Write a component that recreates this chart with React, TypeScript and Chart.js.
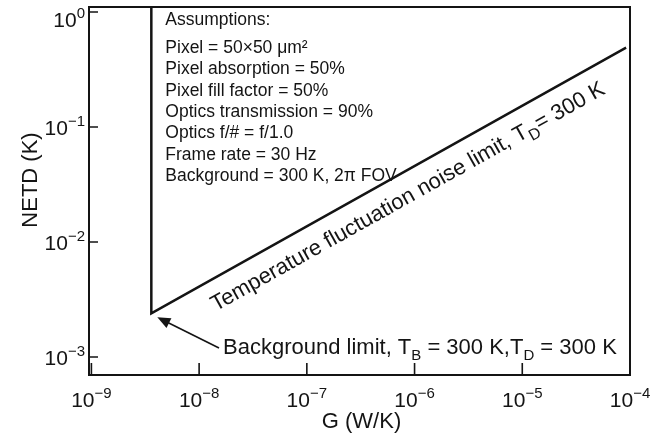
import React, { useEffect, useRef } from "react";
import { Chart, registerables } from "chart.js";

Chart.register(...registerables);

// ---- data ----
const X_MIN = 9.5e-10;
const X_MAX = 1e-4;
const Y_MIN = 6.97e-4;
const Y_MAX = 1.105;

const xTickValues = [1e-9, 1e-8, 1e-7, 1e-6, 1e-5, 1e-4];
const xTickExponents = ["\u22129", "\u22128", "\u22127", "\u22126", "\u22125", "\u22124"];
const yTickValues = [1e0, 1e-1, 1e-2, 1e-3];
const yTickExponents = ["0", "\u22121", "\u22122", "\u22123"];

// limit curve: background-limit vertical, then temperature-fluctuation limit
const limitG = [3.6e-9, 3.6e-9, 9.2e-5];
const limitNETD = [1.105, 2.4e-3, 0.49];

const assumptions = [
  "Assumptions:",
  "Pixel = 50\u00d750 \u03bcm\u00b2",
  "Pixel absorption = 50%",
  "Pixel fill factor = 50%",
  "Optics transmission = 90%",
  "Optics f/# = f/1.0",
  "Frame rate = 30 Hz",
  "Background = 300 K, 2\u03c0 FOV",
];

const FONT = '"Liberation Sans", Arial, Helvetica, sans-serif';
const INK = "#141414";
const f = (s: number) => `${s}px ${FONT}`;

function drawPower(ctx: CanvasRenderingContext2D, exp: string, x: number, baseline: number, align: "center" | "right") {
  ctx.font = f(21);
  const w1 = ctx.measureText("10").width;
  ctx.font = f(15);
  const w2 = ctx.measureText(exp).width;
  const start = align === "center" ? x - (w1 + w2) / 2 : x - (w1 + w2);
  ctx.textAlign = "left";
  ctx.textBaseline = "alphabetic";
  ctx.font = f(21);
  ctx.fillText("10", start, baseline);
  ctx.font = f(15);
  ctx.fillText(exp, start + w1, baseline - 9);
}

type Seg = { t: string; sub?: boolean };
function drawSegs(ctx: CanvasRenderingContext2D, segs: Seg[], x: number, y: number, size: number, subSize: number, subDrop: number) {
  let cx = x;
  ctx.textAlign = "left";
  ctx.textBaseline = "alphabetic";
  for (const s of segs) {
    ctx.font = f(s.sub ? subSize : size);
    ctx.fillText(s.t, cx, s.sub ? y + subDrop : y);
    cx += ctx.measureText(s.t).width;
  }
}

const decorPlugin = {
  id: "decor",
  beforeDraw(chart: any) {
    const { ctx, width, height } = chart;
    ctx.save();
    ctx.fillStyle = "#ffffff";
    ctx.fillRect(0, 0, width, height);
    ctx.restore();
  },
  afterDraw(chart: any) {
    const { ctx, chartArea: a, scales } = chart;
    const xs = scales.x;
    const ys = scales.y;
    ctx.save();
    ctx.strokeStyle = INK;
    ctx.fillStyle = INK;

    // frame
    ctx.lineWidth = 2;
    ctx.strokeRect(a.left, a.top, a.right - a.left, a.bottom - a.top);

    // inner ticks
    ctx.lineWidth = 1.6;
    ctx.beginPath();
    xTickValues.forEach((v) => {
      const px = xs.getPixelForValue(v);
      ctx.moveTo(px, a.bottom);
      ctx.lineTo(px, a.bottom - 12);
    });
    yTickValues.forEach((v) => {
      const py = ys.getPixelForValue(v);
      ctx.moveTo(a.left, py);
      ctx.lineTo(a.left + 9, py);
    });
    ctx.stroke();

    // tick labels
    xTickValues.forEach((v, i) => {
      drawPower(ctx, xTickExponents[i], xs.getPixelForValue(v), a.bottom + 32, "center");
    });
    yTickValues.forEach((v, i) => {
      const py = ys.getPixelForValue(v);
      drawPower(ctx, yTickExponents[i], a.left - 4, Math.max(py + 8, 27), "right");
    });

    // axis titles
    ctx.font = f(22);
    ctx.textAlign = "center";
    ctx.textBaseline = "alphabetic";
    ctx.fillText("G (W/K)", (a.left + a.right) / 2 + 2, a.bottom + 53);
    ctx.save();
    ctx.translate(37, 180);
    ctx.rotate(-Math.PI / 2);
    ctx.fillText("NETD (K)", 0, 0);
    ctx.restore();

    // assumptions block
    const corner = { x: xs.getPixelForValue(limitG[1]), y: ys.getPixelForValue(limitNETD[1]) };
    const end = { x: xs.getPixelForValue(limitG[2]), y: ys.getPixelForValue(limitNETD[2]) };
    ctx.font = f(17.5);
    ctx.textAlign = "left";
    assumptions.forEach((line, i) => {
      const base = i === 0 ? 25 : 53 + (i - 1) * 21.3;
      ctx.fillText(line, corner.x + 14, base);
    });

    // rotated label along the temperature-fluctuation line
    const theta = Math.atan2(corner.y - end.y, end.x - corner.x);
    const ux = Math.cos(theta), uy = -Math.sin(theta);
    const nx = Math.sin(theta), ny = Math.cos(theta);
    const sx = corner.x + 57 * ux + 30 * nx;
    const sy = corner.y + 57 * uy + 30 * ny;
    ctx.save();
    ctx.translate(sx, sy);
    ctx.rotate(-theta);
    drawSegs(ctx, [
      { t: "Temperature fluctuation noise limit, T" },
      { t: "D", sub: true },
      { t: "= 300 K" },
    ], 0, 0, 22, 16, 6);
    ctx.restore();

    // background limit label
    const bx = 223, by = 354;
    drawSegs(ctx, [
      { t: "Background limit, T" },
      { t: "B", sub: true },
      { t: " = 300 K,T" },
      { t: "D", sub: true },
      { t: " = 300 K" },
    ], bx, by, 22, 15, 6);

    // arrow
    const tip = { x: corner.x + 6, y: corner.y + 4 };
    const tail = { x: bx - 4, y: by - 6 };
    const dx = tip.x - tail.x, dy = tip.y - tail.y;
    const len = Math.hypot(dx, dy);
    const dxn = dx / len, dyn = dy / len;
    ctx.lineWidth = 1.6;
    ctx.beginPath();
    ctx.moveTo(tail.x, tail.y);
    ctx.lineTo(tip.x - dxn * 10, tip.y - dyn * 10);
    ctx.stroke();
    ctx.beginPath();
    ctx.moveTo(tip.x, tip.y);
    ctx.lineTo(tip.x - dxn * 13 - dyn * 5.5, tip.y - dyn * 13 + dxn * 5.5);
    ctx.lineTo(tip.x - dxn * 13 + dyn * 5.5, tip.y - dyn * 13 - dxn * 5.5);
    ctx.closePath();
    ctx.fill();

    ctx.restore();
  },
};

export default function App() {
  const ref = useRef<HTMLCanvasElement | null>(null);
  useEffect(() => {
    document.body.style.margin = "0";
    if (!ref.current) return;
    const chart = new Chart(ref.current, {
      type: "line",
      data: {
        datasets: [
          {
            label: "NETD limit",
            data: limitG.map((g, i) => ({ x: g, y: limitNETD[i] })),
            borderColor: INK,
            borderWidth: 2.5,
            pointRadius: 0,
            tension: 0,
            borderJoinStyle: "miter",
            fill: false,
          },
        ],
      },
      options: {
        animation: false,
        responsive: false,
        devicePixelRatio: 1,
        layout: { padding: { left: 89, right: 24, top: 7, bottom: 59 } },
        plugins: { legend: { display: false }, tooltip: { enabled: false } },
        scales: {
          x: { type: "logarithmic", min: X_MIN, max: X_MAX, display: false },
          y: { type: "logarithmic", min: Y_MIN, max: Y_MAX, display: false },
        },
      },
      plugins: [decorPlugin],
    } as any);
    return () => chart.destroy();
  }, []);
  return (
    <div style={{ width: 654, height: 434 }}>
      <canvas ref={ref} width={654} height={434} />
    </div>
  );
}
